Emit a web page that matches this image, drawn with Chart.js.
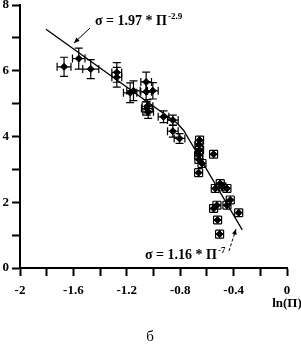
<!DOCTYPE html>
<html>
<head>
<meta charset="utf-8">
<script src="https://cdn.jsdelivr.net/npm/chart.js@4"></script>
<style>
  html, body { margin: 0; padding: 0; background: #fff; }
  canvas { display: block; }
</style>
</head>
<body>
<canvas id="chart" width="301" height="347"></canvas>
<script>
// --- measured points: ln(Π) vs σ ---
const xVals = [-1.67, -1.56, -1.47, -1.275, -1.275, -1.175, -1.15, -1.055, -1.055, -1.005,
               -1.05, -1.04, -1.045, -0.925, -0.855, -0.855, -0.805,
               -0.655, -0.66, -0.655, -0.662, -0.637, -0.66, -0.662, -0.55,
               -0.50, -0.537, -0.45, -0.487, -0.55, -0.525, -0.45, -0.425, -0.362, -0.52, -0.505];
const yVals = [6.12, 6.37, 6.05, 5.95, 5.80, 5.33, 5.39, 5.66, 5.36, 5.39,
               4.85, 4.75, 4.92, 4.60, 4.50, 4.16, 3.94,
               3.89, 3.75, 3.59, 3.43, 3.18, 3.30, 2.90, 3.46,
               2.57, 2.42, 2.42, 2.47, 1.81, 1.91, 1.91, 2.07, 1.68, 1.46, 1.03];
const xErr = [0.052, 0.047, 0.06, 0.037, 0.037, 0.05, 0.05, 0.04, 0.04, 0.04,
              0.04, 0.04, 0.04, 0.04, 0.04, 0.04, 0.04,
              0.03, 0.03, 0.03, 0.03, 0.03, 0.03, 0.03, 0.03,
              0.03, 0.03, 0.03, 0.03, 0.03, 0.03, 0.03, 0.03, 0.03, 0.03, 0.03];
const yErr = [0.29, 0.32, 0.29, 0.3, 0.3, 0.3, 0.3, 0.3, 0.3, 0.25,
              0.2, 0.2, 0.2, 0.18, 0.15, 0.18, 0.15,
              0.12, 0.12, 0.12, 0.12, 0.12, 0.12, 0.12, 0.12,
              0.12, 0.12, 0.12, 0.12, 0.12, 0.12, 0.12, 0.12, 0.12, 0.12, 0.12];

// fitted lines (σ = 1.97*Π^-2.9 then σ = 1.16*Π^-7)
const fitX = [-1.805, -0.825, -0.775, -0.335];
const fitY = [7.26, 4.41, 4.19, 1.16];

const xTickLabels = ['-2', '-1.6', '-1.2', '-0.8', '-0.4', '0'];
const yTickLabels = ['0', '2', '4', '6', '8'];

const tickFont = { family: '"Liberation Serif", "Times New Roman", serif', size: 13, weight: 'bold', lineHeight: 1 };

// ================= ERROR BARS =================
const errorBars = {
    id: 'errorBars',
    beforeDatasetsDraw(chart) {
        const { ctx, scales: { x, y } } = chart;
        ctx.save();
        ctx.strokeStyle = '#000';
        ctx.lineWidth = 1.2;
        xVals.forEach((xv, i) => {
            const px = x.getPixelForValue(xv), py = y.getPixelForValue(yVals[i]);
            const x0 = x.getPixelForValue(xv - xErr[i]), x1 = x.getPixelForValue(xv + xErr[i]);
            const y0 = y.getPixelForValue(yVals[i] - yErr[i]), y1 = y.getPixelForValue(yVals[i] + yErr[i]);
            const cap = 4;
            ctx.beginPath();
            ctx.moveTo(x0, py); ctx.lineTo(x1, py);
            ctx.moveTo(x0, py - cap); ctx.lineTo(x0, py + cap);
            ctx.moveTo(x1, py - cap); ctx.lineTo(x1, py + cap);
            ctx.moveTo(px, y0); ctx.lineTo(px, y1);
            ctx.moveTo(px - cap, y0); ctx.lineTo(px + cap, y0);
            ctx.moveTo(px - cap, y1); ctx.lineTo(px + cap, y1);
            ctx.stroke();
        });
        ctx.restore();
    }
};

// ================= LABELS & ARROWS =================
function formula(ctx, x, base, main, sup) {
    ctx.font = 'bold 14px "Liberation Serif", serif';
    ctx.textAlign = 'left';
    ctx.textBaseline = 'alphabetic';
    ctx.fillText(main, x, base);
    const w = ctx.measureText(main).width;
    ctx.font = 'bold 9px "Liberation Serif", serif';
    ctx.fillText(sup, x + w + 1, base - 6);
}

function arrow(ctx, fx, fy, tx, ty, dashed) {
    ctx.save();
    ctx.lineWidth = 1;
    if (dashed) ctx.setLineDash([3, 2]);
    ctx.beginPath();
    ctx.moveTo(fx, fy); ctx.lineTo(tx, ty);
    ctx.stroke();
    ctx.setLineDash([]);
    const a = Math.atan2(ty - fy, tx - fx);
    ctx.beginPath();
    ctx.moveTo(tx, ty);
    ctx.lineTo(tx - 6 * Math.cos(a - 0.4), ty - 6 * Math.sin(a - 0.4));
    ctx.lineTo(tx - 6 * Math.cos(a + 0.4), ty - 6 * Math.sin(a + 0.4));
    ctx.closePath();
    ctx.fill();
    ctx.restore();
}

const annotations = {
    id: 'annotations',
    afterDraw(chart) {
        const { ctx, scales: { x } } = chart;
        ctx.save();
        ctx.fillStyle = '#000';
        ctx.strokeStyle = '#000';
        formula(ctx, 95, 25, 'σ = 1.97 * Π', '-2.9');
        formula(ctx, 145, 259, 'σ = 1.16 * Π', '-7');
        arrow(ctx, 90, 28, 74, 43, false);
        arrow(ctx, 229, 251, 236, 229, true);

        ctx.font = 'bold 13px "Liberation Serif", serif';
        ctx.textAlign = 'center';
        ctx.textBaseline = 'middle';
        ctx.fillText('ln(Π)', x.getPixelForValue(0), 304);

        ctx.font = '15px "Liberation Serif", serif';
        ctx.fillText('б', 150, 337);
        ctx.restore();
    }
};

const points = xVals.map((v, i) => ({ x: v, y: yVals[i] }));
const fitLine = fitX.map((v, i) => ({ x: v, y: fitY[i] }));

new Chart(document.getElementById('chart'), {
    type: 'scatter',
    data: {
        datasets: [
            { data: fitLine, showLine: true, borderColor: '#000', borderWidth: 1.3, pointRadius: 0, tension: 0 },
            { data: points, pointStyle: 'rectRot', pointRadius: 3.5, backgroundColor: '#000', borderColor: '#000' }
        ]
    },
    options: {
        responsive: false,
        devicePixelRatio: 1,
        animation: false,
        layout: { padding: { left: 0, top: 5, right: 14, bottom: 0 } },
        plugins: { legend: { display: false }, tooltip: { enabled: false } },
        scales: {
            x: {
                type: 'linear', min: -2, max: 0,
                border: { display: true, color: '#000', width: 2 },
                grid: { drawOnChartArea: false, drawTicks: true, tickLength: 8, tickColor: '#000', tickWidth: 2 },
                ticks: {
                    stepSize: 0.2, color: '#000', font: tickFont, padding: 8, maxRotation: 0, autoSkip: false,
                    callback: v => {
                        const s = String(Math.round(v * 10) / 10);
                        return xTickLabels.includes(s) ? s : '';
                    }
                },
                afterFit: s => { s.height = 79; s.paddingLeft = 0; s.paddingRight = 0; }
            },
            y: {
                type: 'linear', min: 0, max: 8,
                border: { display: true, color: '#000', width: 2 },
                grid: { drawOnChartArea: false, drawTicks: true, tickLength: 8, tickColor: '#000', tickWidth: 2 },
                ticks: {
                    stepSize: 1, color: '#000', font: tickFont, padding: 3, autoSkip: false,
                    callback: v => yTickLabels.includes(String(v)) ? String(v) : ''
                },
                afterFit: s => { s.width = 20; s.paddingTop = 0; s.paddingBottom = 0; }
            }
        }
    },
    plugins: [errorBars, annotations]
});
</script>
</body>
</html>
